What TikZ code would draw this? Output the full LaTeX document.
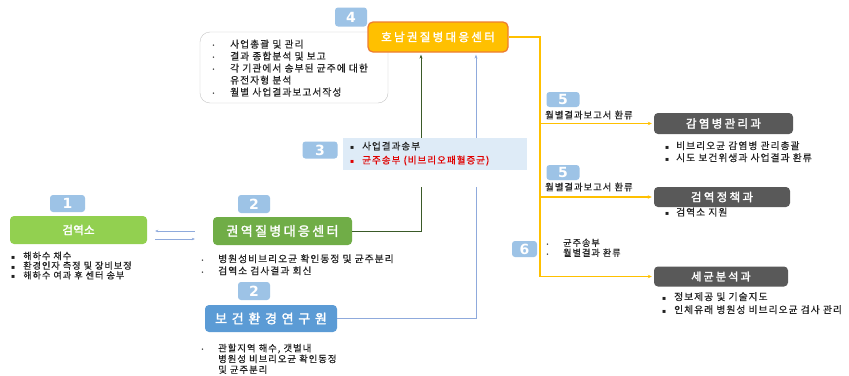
\documentclass[tikz,border=0pt]{standalone}
\usepackage{fontspec}
\setmainfont{Noto Sans CJK KR}[LetterSpace=10, FakeBold=0.5]
\newfontfamily\sym{DejaVu Sans}
\newfontfamily\tfA{Noto Sans CJK KR}[LetterSpace=20, FakeBold=2]
\newfontfamily\tfB{Noto Sans CJK KR}[LetterSpace=18, FakeBold=2]
\newfontfamily\tfC{Noto Sans CJK KR}[LetterSpace=36, FakeBold=2]
\newfontfamily\tfD{Noto Sans CJK KR}[LetterSpace=2, FakeBold=2]
\usetikzlibrary{arrows.meta,calc}
\definecolor{badgec}{HTML}{9DC3E6}
\definecolor{qgreen}{HTML}{92D050}
\definecolor{rgreen}{HTML}{70AD47}
\definecolor{hblue}{HTML}{5B9BD5}
\definecolor{dgray}{HTML}{595959}
\definecolor{ylw}{HTML}{FFC000}
\definecolor{org}{HTML}{ED7D31}
\definecolor{lblue}{HTML}{DEEBF7}
\definecolor{lineblue}{HTML}{8FAADC}
\definecolor{dgreen}{HTML}{3A5A28}
\definecolor{txtred}{HTML}{E00000}
\definecolor{txt}{HTML}{222222}
\newcommand\dotb[1]{\makebox[#1][l]{\sym\fontsize{5}{5}\selectfont •}}
\newcommand\sqb[1]{\makebox[#1][l]{\sym\fontsize{6}{6}\selectfont ▪}}
\begin{document}
\begin{tikzpicture}[x=1pt,y=-1pt,
  badge/.style={fill=badgec, rounded corners=3pt, text=white, inner sep=0pt,
    font=\sym\bfseries\fontsize{14}{14}\selectfont},
  tbox/.style={rounded corners=4pt, text=white, inner sep=0pt},
  lst/.style={anchor=north west, inner sep=0pt, align=left, text=txt},
  small/.style={font=\fontsize{9.8}{12}\selectfont},
  ylwline/.style={draw=ylw, line width=1.1pt},
  ytip/.style={-{Stealth[length=4pt,width=3.5pt]}, shorten >=2pt}
]
\useasboundingbox (0,0) rectangle (849,375);
\fill[white] (0,0) rectangle (849,375);

% ---- top: 4 ----
\node[badge, minimum width=32pt, minimum height=19pt] (b4) at (351,17) {4};
\node[draw=gray!45, fill=white, rounded corners=10pt, minimum width=188pt, minimum height=71pt, inner sep=0pt] (box4) at (294,67.5) {};
\node[lst, small] (l4) at (212,39.5) {\dotb{18pt}사업총괄 및 관리\\
  \dotb{18pt}결과 종합분석 및 보고\\
  \dotb{18pt}각 기관에서 송부된 균주에 대한\\
  \hspace*{18pt}유전자형 분석\\
  \dotb{18pt}월별 사업결과보고서작성};
\node[tbox, fill=ylw, draw=org, line width=1.3pt, rounded corners=5pt, minimum width=140pt, minimum height=30pt,
  font=\tfA\fontsize{11.5}{12}\selectfont] (hn) at (438,37) {호남권질병대응센터};

% ---- right boxes ----
\node[tbox, fill=dgray, minimum width=139pt, minimum height=21pt, font=\tfA\fontsize{11.5}{12}\selectfont] (km) at (723.5,123.5) {감염병관리과};
\node[tbox, fill=dgray, minimum width=136pt, minimum height=20pt, font=\tfA\fontsize{11.5}{12}\selectfont] (gj) at (722,197) {검역정책과};
\node[tbox, fill=dgray, minimum width=134pt, minimum height=20pt, font=\tfA\fontsize{11}{12}\selectfont] (sg) at (721,276.5) {세균분석과};

\node[lst, small] (lkm) at (665,141) {\sqb{11pt}비브리오균 감염병 관리총괄\\ \sqb{11pt}시도 보건위생과 사업결과 환류};
\node[lst, small] (lgj) at (665,207.5) {\sqb{11pt}검역소 지원};
\node[lst, font=\fontsize{9.8}{13}\selectfont] (lsg) at (662,292) {\sqb{12pt}정보제공 및 기술지도\\ \sqb{12pt}인체유래 병원성 비브리오균 검사 관리};

\node[badge, minimum width=33pt, minimum height=15pt] (b5a) at (563,99.5) {5};
\node[anchor=west, inner sep=0pt, text=txt, font=\fontsize{9.4}{10}\selectfont] (t5a) at (545,115) {월별결과보고서 환류};
\node[badge, minimum width=33pt, minimum height=15pt] (b5b) at (563,172.5) {5};
\node[anchor=west, inner sep=0pt, text=txt, font=\fontsize{9.4}{10}\selectfont] (t5b) at (545,187) {월별결과보고서 환류};
\node[badge, minimum width=25pt, minimum height=16pt] (b6) at (524.5,249) {6};
\node[lst, font=\fontsize{9.2}{10}\selectfont] (l6) at (546,238.5) {\dotb{17pt}균주송부\\ \dotb{17pt}월별결과 환류};

% ---- left ----
\node[badge, minimum width=35pt, minimum height=17pt] (b1) at (67.5,203.5) {1};
\node[tbox, fill=qgreen, minimum width=137pt, minimum height=28pt, font=\tfD\fontsize{11.5}{12}\selectfont] (q) at (78.5,230) {검역소};
\node[lst, font=\fontsize{9.2}{9.7}\selectfont] (lq) at (11,251.5) {\sqb{12pt}해하수 채수\\ \sqb{12pt}환경인자 측정 및 장비보정\\ \sqb{12pt}해하수 여과 후 센터 송부};

\node[badge, minimum width=32pt, minimum height=18pt] (b2) at (254,204) {2};
\node[tbox, fill=rgreen, minimum width=139pt, minimum height=28pt, font=\tfB\fontsize{13}{14}\selectfont] (kw) at (282.5,231) {권역질병대응센터};
\node[lst, small] (lkw) at (201,254) {\dotb{17pt}병원성비브리오균 확인동정 및 균주분리\\ \dotb{17pt}검역소 검사결과 회신};

\node[badge, minimum width=32pt, minimum height=18pt] (b2b) at (254,291) {2};
\node[tbox, fill=hblue, minimum width=132pt, minimum height=27pt, font=\tfC\fontsize{13}{14}\selectfont] (bh) at (271,318.5) {보건환경연구원};
\node[lst, font=\fontsize{9.4}{10.8}\selectfont] (lbh) at (201,343.5) {\dotb{17pt}관할지역 해수, 갯벌내\\ \hspace*{17pt}병원성 비브리오균 확인동정\\ \hspace*{17pt}및 균주분리};

% ---- connectors ----
\draw[lineblue, line width=0.6pt, -{Stealth[length=3pt,width=2.5pt]}] ($(kw.west)+(-18,0)$) -- ($(q.east)+(8,1)$);
\draw[lineblue, line width=0.6pt, -{Stealth[length=3pt,width=2.5pt]}] ($(q.east)+(8,9)$) -- ($(kw.west)+(-18,8)$);

\coordinate (g1) at (421,231);
\draw[dgreen, line width=0.9pt, -{Stealth[length=4pt,width=3pt]}, shorten >=2pt] (kw.east) -- (g1) -- (g1 |- hn.south);
\coordinate (c1) at (476,318.5);
\draw[lineblue, line width=0.9pt, -{Stealth[length=4pt,width=3pt]}, shorten >=2pt] (bh.east) -- (c1) -- (c1 |- hn.south);

\coordinate (yt) at (540,37);
\coordinate (y1) at (540,123.5);
\coordinate (y2) at (540,197);
\coordinate (y3) at (540,276.5);
\draw[ylwline, ytip] (hn.east) -- (yt) -- (y3) -- (sg.west);
\draw[ylwline, ytip] (y1) -- (km.west);
\draw[ylwline, ytip] (y2) -- (gj.west);

% ---- 3 ----
\fill[white] (343,138) rectangle (527,187);
\node[fill=lblue, minimum width=184pt, minimum height=32pt, inner sep=0pt] (a3) at (435,154) {};
\node[lst, font=\fontsize{9.6}{14}\selectfont] (l3) at (350,141.5) {\sqb{12pt}사업결과송부\\ \textcolor{txtred}{\sqb{12pt}균주송부 (비브리오패혈증균)}};
\node[badge, minimum width=35pt, minimum height=17pt] (b3) at (320,150) {3};
\end{tikzpicture}
\end{document}
